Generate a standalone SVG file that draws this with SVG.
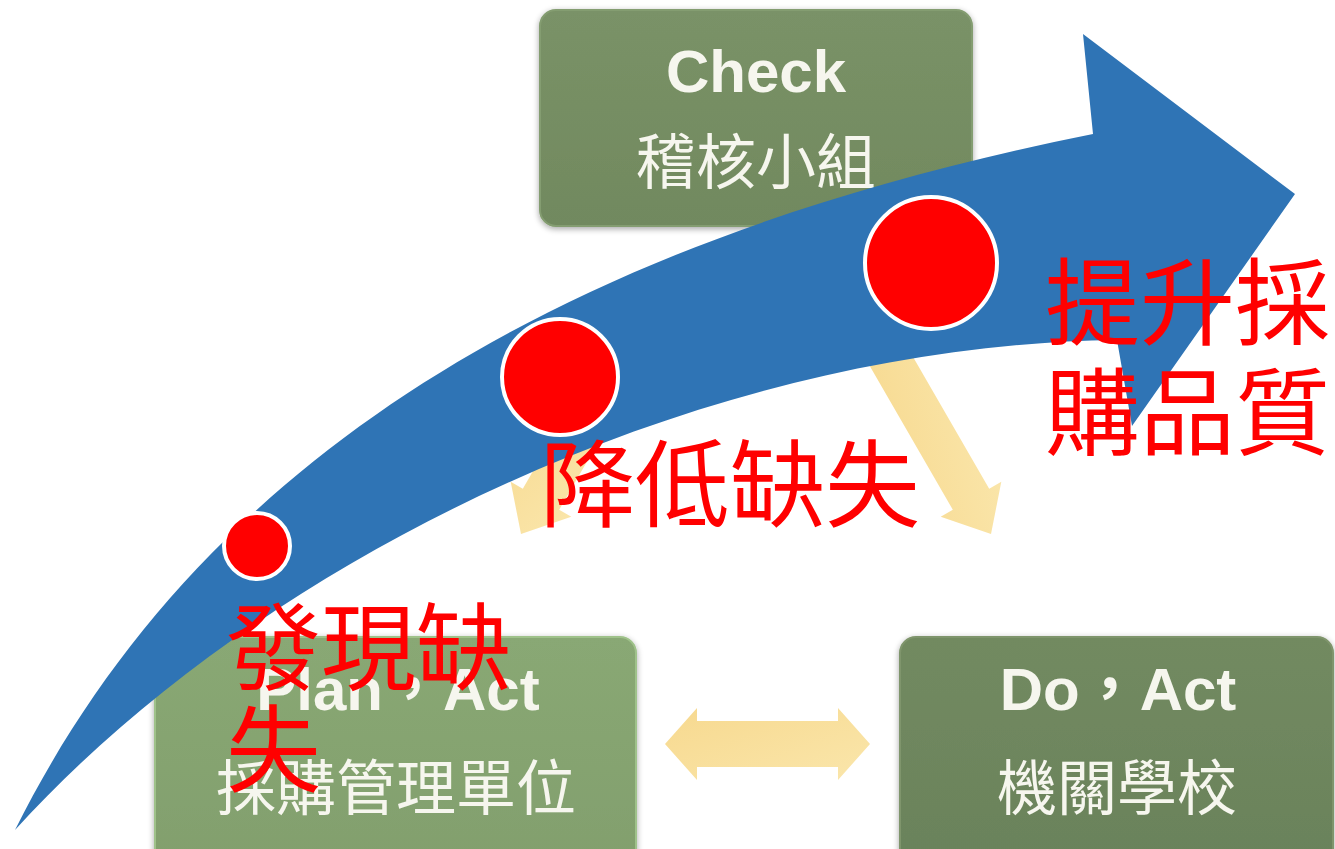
<svg xmlns="http://www.w3.org/2000/svg" width="1335" height="849" viewBox="0 0 1335 849">
<defs>
<style>
.box{stroke-width:2}
.wt{fill:#f6f6ee;font-family:"Liberation Sans","Noto Sans CJK TC",sans-serif;font-weight:bold;font-size:60px;text-anchor:middle}
.wc{fill:#f6f6ee;font-family:"Noto Sans CJK TC",sans-serif;font-size:60px;text-anchor:middle}
.red{fill:#ff0000;font-family:"Noto Sans CJK TC",sans-serif;font-size:95px}
.dot{fill:#ff0000;stroke:#ffffff;stroke-width:4}
.yel{fill:url(#gY)}
</style>
<linearGradient id="gY" x1="0" y1="0" x2="1" y2="1"><stop offset="0" stop-color="#f7d98f"/><stop offset="1" stop-color="#fae6ab"/></linearGradient>
<linearGradient id="gC" x1="0" y1="0" x2="0" y2="1"><stop offset="0" stop-color="#7a9267"/><stop offset="1" stop-color="#71895f"/></linearGradient>
<linearGradient id="gP" x1="0" y1="0" x2="0" y2="1"><stop offset="0" stop-color="#89a874"/><stop offset="1" stop-color="#829f6d"/></linearGradient>
<linearGradient id="gD" x1="0" y1="0" x2="0" y2="1"><stop offset="0" stop-color="#728a61"/><stop offset="1" stop-color="#6a825a"/></linearGradient>
<filter id="sh" x="-10%" y="-10%" width="120%" height="120%"><feGaussianBlur in="SourceAlpha" stdDeviation="3"/><feOffset dx="0" dy="2"/><feComponentTransfer><feFuncA type="linear" slope="0.35"/></feComponentTransfer><feMerge><feMergeNode/><feMergeNode in="SourceGraphic"/></feMerge></filter>
</defs>
<rect width="1335" height="849" fill="#ffffff"/>

<g id="connectors">
<polygon id="arrow-check-do" class="yel" transform="translate(991,534) rotate(-30)" points="0,0 35,-40 21,-40 21,-250 -21,-250 -21,-40 -35,-40"/>
<polygon id="arrow-check-plan" class="yel" transform="translate(521,534) rotate(30)" points="0,0 35,-40 21,-40 21,-250 -21,-250 -21,-40 -35,-40"/>
<polygon id="arrow-plan-do" class="yel" points="665,744 697,708 697,721 838,721 838,708 870,744 838,780 838,767 697,767 697,780"/>
</g>

<g id="node-check">
<rect class="box" x="540" y="10" width="432" height="216" rx="16" fill="url(#gC)" stroke="#849d71" filter="url(#sh)"/>
<text class="wt" x="756" y="92">Check</text>
<text class="wc" x="756" y="184">稽核小組</text>
</g>

<g id="node-plan">
<rect class="box" x="155" y="637" width="481" height="232" rx="16" fill="url(#gP)" stroke="#9fc28a" filter="url(#sh)"/>
<text class="wt" x="398" y="710">Plan，Act</text>
<text class="wc" x="396" y="810">採購管理單位</text>
</g>

<g id="node-do">
<rect class="box" x="900" y="637" width="433" height="232" rx="16" fill="url(#gD)" stroke="#7f956c" filter="url(#sh)"/>
<text class="wt" x="1118" y="710">Do，Act</text>
<text class="wc" x="1117" y="810">機關學校</text>
</g>

<g id="progress-arrow">
<path d="M15,830 C195,470 543,244 1093,134 L1083,34 L1295,194 L1132,426 L1117,340 C700,345 260,560 15,830 Z" fill="#2f74b5"/>
<circle class="dot" cx="257" cy="546" r="33"/>
<circle class="dot" cx="560" cy="377" r="58"/>
<circle class="dot" cx="931" cy="263" r="66"/>
</g>

<g id="labels">
<text class="red" x="540" y="520">降低缺失</text>
<text class="red" x="1045" y="338">提升採</text>
<text class="red" x="1045" y="448">購品質</text>
<text class="red" x="226" y="683">發現缺</text>
<text class="red" x="226" y="785">失</text>
</g>
</svg>
